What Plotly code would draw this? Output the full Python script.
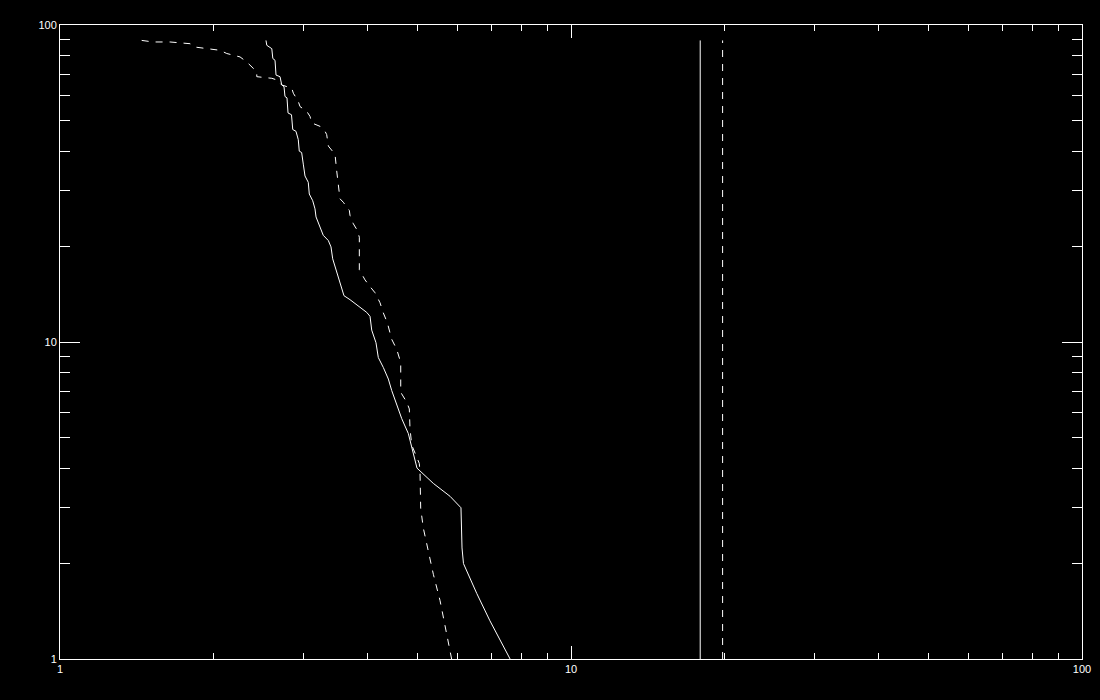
import plotly.graph_objects as go

# Solid curve (cumulative distribution)
solid_x = [2.530, 2.539, 2.597, 2.609, 2.635, 2.647, 2.695, 2.716, 2.744, 2.756,
           2.781, 2.794, 2.838, 2.854, 2.896, 2.926, 2.939, 2.971, 2.993, 3.016,
           3.061, 3.075, 3.123, 3.155, 3.170, 3.227, 3.275, 3.350, 3.391, 3.417,
           3.479, 3.531, 3.595, 3.694, 3.807, 3.983, 4.043, 4.074, 4.153, 4.197,
           4.293, 4.391, 4.458, 4.560, 4.664, 4.805, 4.879, 4.952, 4.996, 5.378,
           5.798, 6.091, 6.12, 6.16, 6.54, 6.94, 7.6]
solid_y = [89.4, 86.3, 84.2, 78.4, 77.4, 69.5, 68.7, 64.7, 63.9, 59.5,
           58.9, 52.8, 52.1, 46.8, 46.2, 43.5, 40.0, 39.6, 36.4, 33.4,
           31.9, 29.3, 27.9, 26.3, 24.8, 23.0, 21.7, 20.9, 19.95, 18.3,
           16.7, 15.3, 14.0, 13.6, 13.1, 12.4, 12.05, 10.9, 9.95, 8.93,
           8.31, 7.64, 7.03, 6.31, 5.73, 5.14, 4.67, 4.19, 4.0, 3.58,
           3.26, 3.0, 2.24, 2.0, 1.61, 1.32, 1.0]

# Dashed curve
dashed_x = [1.445, 1.523, 1.642, 1.756, 1.797, 1.837, 1.937, 1.981, 2.057, 2.120,
            2.200, 2.251, 2.319, 2.372, 2.427, 2.427, 2.518, 2.597, 2.656, 2.716,
            2.841, 2.862, 2.926, 2.949, 3.040, 3.085, 3.109, 3.227, 3.301, 3.326,
            3.351, 3.453, 3.479, 3.504, 3.531, 3.584, 3.683, 3.694, 3.750, 3.818,
            3.853, 3.853, 3.953, 4.043, 4.135, 4.229, 4.293, 4.371, 4.458, 4.560,
            4.643, 4.643, 4.770, 4.826, 4.841, 4.879, 4.990, 5.048, 5.064, 5.080,
            5.140, 5.257, 5.378, 5.542, 5.713, 5.84]
dashed_y = [89.4, 88.4, 88.4, 87.7, 87.3, 85.2, 84.2, 83.8, 83.2, 81.3,
            79.9, 79.3, 76.5, 73.8, 71.2, 68.7, 68.4, 67.9, 67.1, 64.7,
            63.2, 60.9, 57.4, 55.3, 53.4, 51.5, 49.1, 47.9, 46.2, 45.1,
            41.5, 39.1, 34.7, 30.7, 28.3, 27.6, 26.0, 25.1, 23.6, 22.5,
            21.4, 16.9, 15.7, 14.96, 14.3, 13.3, 12.35, 11.5, 10.2, 9.48,
            8.61, 6.94, 6.46, 6.15, 5.33, 4.73, 4.29, 4.14, 3.90, 2.99,
            2.59, 2.19, 1.85, 1.53, 1.20, 1.0]

# Vertical marker lines
solid_mark_x = 17.9
dashed_mark_x = 19.8
mark_y = [1.0, 89.4]

# Axis tick values
major_ticks = [1, 10, 100]
major_labels = ["1", "10", "100"]
minor_ticks = [2, 3, 4, 5, 6, 7, 8, 9, 20, 30, 40, 50, 60, 70, 80, 90]

DASH = "7px,7px"
W = "white"

fig = go.Figure()
fig.add_trace(go.Scatter(x=solid_x, y=solid_y, mode="lines",
                         line=dict(color=W, width=1), showlegend=False))
fig.add_trace(go.Scatter(x=dashed_x, y=dashed_y, mode="lines",
                         line=dict(color=W, width=1, dash=DASH), showlegend=False))
fig.add_trace(go.Scatter(x=[solid_mark_x, solid_mark_x], y=mark_y, mode="lines",
                         line=dict(color=W, width=1), showlegend=False))
fig.add_trace(go.Scatter(x=[dashed_mark_x, dashed_mark_x], y=mark_y, mode="lines",
                         line=dict(color=W, width=1, dash=DASH), showlegend=False))

axis_common = dict(
    type="log", range=[0, 2], showgrid=False, zeroline=False,
    showline=True, linecolor=W, linewidth=1, mirror="allticks",
    ticks="inside", tickcolor=W, tickwidth=1,
    tickmode="array", tickvals=major_ticks, ticktext=major_labels,
    tickfont=dict(family="Liberation Sans", size=11, color=W),
)

fig.update_xaxes(**axis_common, ticklen=13,
                 minor=dict(tickmode="array", tickvals=minor_ticks, ticklen=6,
                            tickcolor=W, tickwidth=1, ticks="inside", showgrid=False))
fig.update_yaxes(**axis_common, ticklen=20,
                 minor=dict(tickmode="array", tickvals=minor_ticks, ticklen=10,
                            tickcolor=W, tickwidth=1, ticks="inside", showgrid=False))

fig.update_layout(
    width=1100, height=700,
    paper_bgcolor="black", plot_bgcolor="black",
    margin=dict(l=52, r=26, t=11, b=49),
    showlegend=False,
)

fig.write_html("out.html", post_script="document.body.style.background='black';")
